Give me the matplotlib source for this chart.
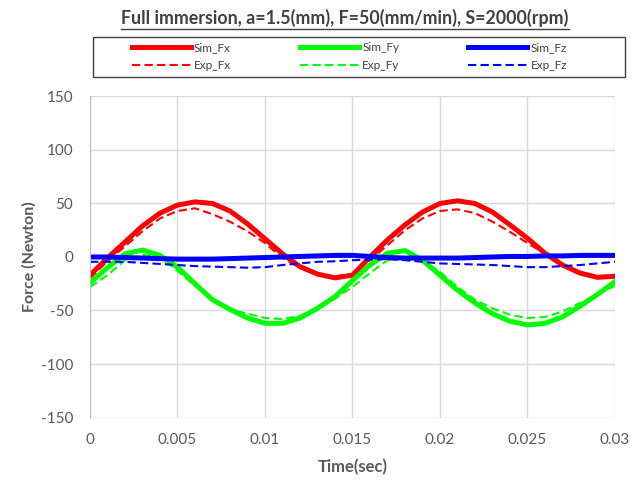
import numpy as np
import matplotlib
matplotlib.use('Agg')
import matplotlib.pyplot as plt
from matplotlib.patches import Rectangle
from matplotlib.lines import Line2D

plt.rcParams['font.family'] = ['Lato', 'DejaVu Sans']
plt.rcParams['axes.unicode_minus'] = False

# --- data (step 0.001 s) ---
time = [0.000, 0.001, 0.002, 0.003, 0.004, 0.005, 0.006, 0.007, 0.008, 0.009,
        0.010, 0.011, 0.012, 0.013, 0.014, 0.015, 0.016, 0.017, 0.018, 0.019,
        0.020, 0.021, 0.022, 0.023, 0.024, 0.025, 0.026, 0.027, 0.028, 0.029, 0.030]

sim_fx = [-17, -1, 14, 29, 41, 48.5, 51.5, 50, 43, 31,
          17, 3, -9, -16, -19.5, -17, 0, 16, 30, 42,
          50, 52.5, 50, 42, 30, 17.5, 3.5, -7.5, -15, -19, -18]
exp_fx = [-20, -4, 10, 24, 36, 43, 45.5, 40, 33, 24,
          13, -1, -10, -16, -18, -16, -3, 11, 25, 36,
          43, 44.5, 41, 33, 23.5, 13, 3, -8, -15, -18, -17]
sim_fy = [-24, -10, 3, 6.5, 1.5, -9.5, -25, -40, -49, -57,
          -62, -62, -57, -48, -37, -22, -7.5, 3.5, 6, -3,
          -17, -31, -43, -53, -60, -63.5, -62, -56, -46, -35, -23]
exp_fy = [-28, -17, -3, 2, 0, -13, -27, -40, -49, -53,
          -57, -58, -55, -48, -39, -28, -15, -3, 0, -3,
          -14, -28, -40, -48, -54, -57, -56, -51, -43, -35, -27]
sim_fz = [0, 0, -0.5, -1, -1.5, -2, -2, -2, -1.5, -1,
          -0.5, 0, 0.5, 1, 1.5, 1.5, 0.5, -0.5, -1, -1,
          -1, -1, -0.5, 0, 0.5, 0.5, 1, 1, 1.5, 1.5, 1.5]
exp_fz = [-4.5, -4.5, -4.5, -5.5, -6.5, -7.5, -8.5, -9, -9.5, -10,
          -9.5, -7.5, -6, -4.5, -4, -3, -2.5, -2, -3, -4.5,
          -6, -6.5, -7, -7.5, -8.5, -9.5, -9.5, -8.5, -7.5, -6, -4.5]

x_ticks = [0, 0.005, 0.01, 0.015, 0.02, 0.025, 0.03]
x_tick_labels = ['0', '0.005', '0.01', '0.015', '0.02', '0.025', '0.03']
y_ticks = [-150, -100, -50, 0, 50, 100, 150]

title = 'Full immersion, a=1.5(mm), F=50(mm/min), S=2000(rpm)'
gray = '#595959'

fig = plt.figure(figsize=(6.41, 4.80), dpi=100)
ax = fig.add_axes([0.1404, 0.1302, 0.819, 0.6688])

sim_lw = 3.6
exp_lw = 1.5
dash = (0, (4, 2))
ax.plot(time, sim_fx, color='#FF0000', lw=sim_lw, label='Sim_Fx', solid_joinstyle='round')
ax.plot(time, exp_fx, color='#FF0000', lw=exp_lw, ls=dash, label='Exp_Fx')
ax.plot(time, sim_fy, color='#00FF00', lw=sim_lw, label='Sim_Fy', solid_joinstyle='round')
ax.plot(time, exp_fy, color='#00FF00', lw=exp_lw, ls=dash, label='Exp_Fy')
ax.plot(time, sim_fz, color='#0000FF', lw=sim_lw, label='Sim_Fz', solid_joinstyle='round')
ax.plot(time, exp_fz, color='#0000FF', lw=exp_lw, ls=dash, label='Exp_Fz')

ax.set_xlim(0, 0.03)
ax.set_ylim(-150, 150)
ax.set_xticks(x_ticks)
ax.set_xticklabels(x_tick_labels)
ax.set_yticks(y_ticks)
ax.tick_params(length=0, labelsize=11, labelcolor=gray)
ax.tick_params(axis='y', pad=12)
ax.tick_params(axis='x', pad=11)
ax.grid(True, color='#D9D9D9', lw=1)
ax.set_axisbelow(True)
for s in ['top', 'right', 'bottom']:
    ax.spines[s].set_visible(False)
ax.spines['left'].set_color('#BFBFBF')

ax.set_xlabel('Time(sec)', fontsize=12, fontweight='bold', color=gray, labelpad=9)
ax.set_ylabel('Force (Newton)', fontsize=11.5, fontweight='bold', color=gray, labelpad=3)

t = fig.text(0.538, 0.963, title, ha='center', va='center', fontsize=12.8,
             fontweight='bold', color='#404040')

leg = fig.legend(loc='upper left', bbox_to_anchor=(0.196, 0.925), ncol=3,
                 frameon=False, fontsize=8.5, handlelength=5.0, handletextpad=0.3,
                 columnspacing=5.8, labelspacing=0.6, borderpad=0)
for txt in leg.get_texts():
    txt.set_color('#404040')
fig.patches.append(Rectangle((93 / 641, 1 - 77 / 480), 532 / 641, 40 / 480,
                             transform=fig.transFigure, fill=False,
                             edgecolor='#404040', lw=1))

# underline under the title
fig.canvas.draw()
bb = t.get_window_extent().transformed(fig.transFigure.inverted())
fig.add_artist(Line2D([bb.x0, bb.x1], [bb.y0 - 0.004, bb.y0 - 0.004],
                      transform=fig.transFigure, color='#404040', lw=1))

fig.savefig('out.png', dpi=100)
